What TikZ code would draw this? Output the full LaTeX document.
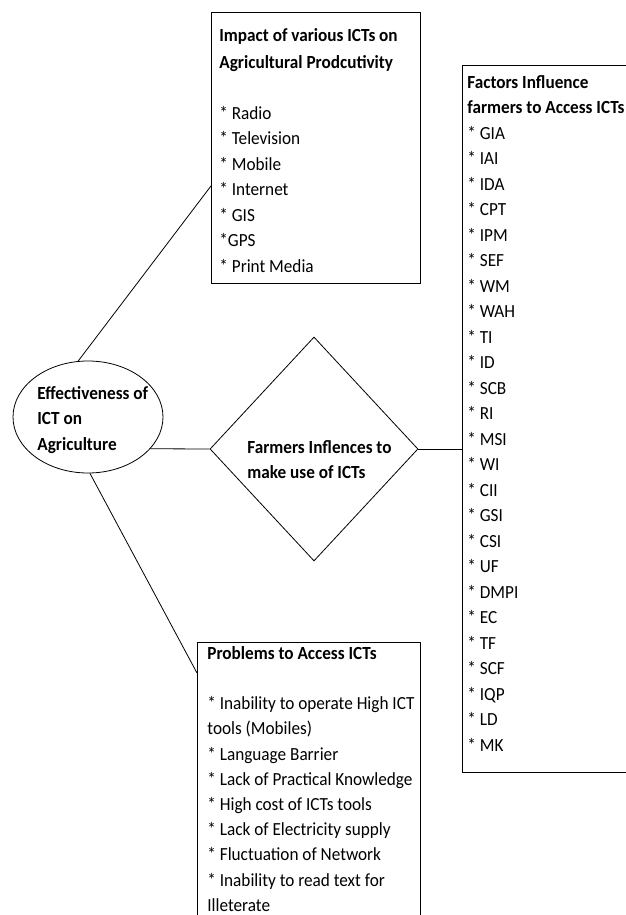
\documentclass[tikz,border=0pt]{standalone}
\usepackage{fontspec}
\setmainfont{Carlito}[FakeStretch=0.93]
\usetikzlibrary{shapes.geometric,calc}
\tikzset{
  boxst/.style={draw, anchor=north west, inner sep=0pt},
  txt/.style={anchor=north west, align=left, inner sep=0pt, font=\fontsize{18.5}{25.5}\selectfont},
}
\begin{document}
\begin{tikzpicture}[x=1pt,y=-1pt,line width=0.8pt]
\useasboundingbox (0,0) rectangle (626,915);
\clip (0,0) rectangle (626,915);
% boxes
\node[boxst, minimum width=209pt, minimum height=271pt] (topbox) at (211,12) {};
\node[boxst, minimum width=180pt, minimum height=707pt] (rbox) at (462,65) {};
\node[boxst, minimum width=223pt, minimum height=300pt] (bbox) at (197,642) {};
\node[draw, ellipse, minimum width=150pt, minimum height=112pt, inner sep=0pt] (ell) at (88,417) {};
\node[draw, diamond, minimum width=208pt, minimum height=224pt, inner sep=0pt] (dia) at (314,449) {};
% connectors
\draw (ell.100) -- ($(topbox.north west)!0.64!(topbox.south west)$);
\draw (ell.272) -- ($(bbox.north west)+(0,31)$);
\draw (ell.-27.5) -- (dia.west);
\draw (dia.east) -- (dia.east -| rbox.west);
% texts
\node[txt] (toptxt) at (219,28) {\textbf{Impact of various ICTs on}\\[1.5pt]\textbf{Agricultural Prodcutivity}\\ \mbox{}\\
* Radio\\ * Television\\ * Mobile\\ * Internet\\ * GIS\\ *GPS\\ * Print Media};
\node[txt] (rtxt) at (467,75) {\textbf{Factors Influence}\\ \textbf{farmers to Access ICTs}\\
* GIA\\ * IAI\\ * IDA\\ * CPT\\ * IPM\\ * SEF\\ * WM\\ * WAH\\ * TI\\ * ID\\
* SCB\\ * RI\\ * MSI\\ * WI\\ * CII\\ * GSI\\ * CSI\\ * UF\\ * DMPI\\ * EC\\ * TF\\ * SCF\\ * IQP\\ * LD\\ * MK};
\node[txt, font=\fontsize{18.5}{25.2}\selectfont] (btxt) at (207,646) {\textbf{Problems to Access ICTs}\\ \mbox{}\\
* Inability to operate High ICT\\ tools (Mobiles)\\ * Language Barrier\\ * Lack of Practical Knowledge\\
* High cost of ICTs tools\\ * Lack of Electricity supply\\ * Fluctuation of Network\\
* Inability to read text for\\ Illeterate};
\node[txt] (etxt) at (37,386) {\textbf{Effectiveness of}\\ \textbf{ICT on}\\ \textbf{Agriculture}};
\node[txt] (dtxt) at (247,440) {\textbf{Farmers Inflences to}\\ \textbf{make use of ICTs}};
\end{tikzpicture}
\end{document}
